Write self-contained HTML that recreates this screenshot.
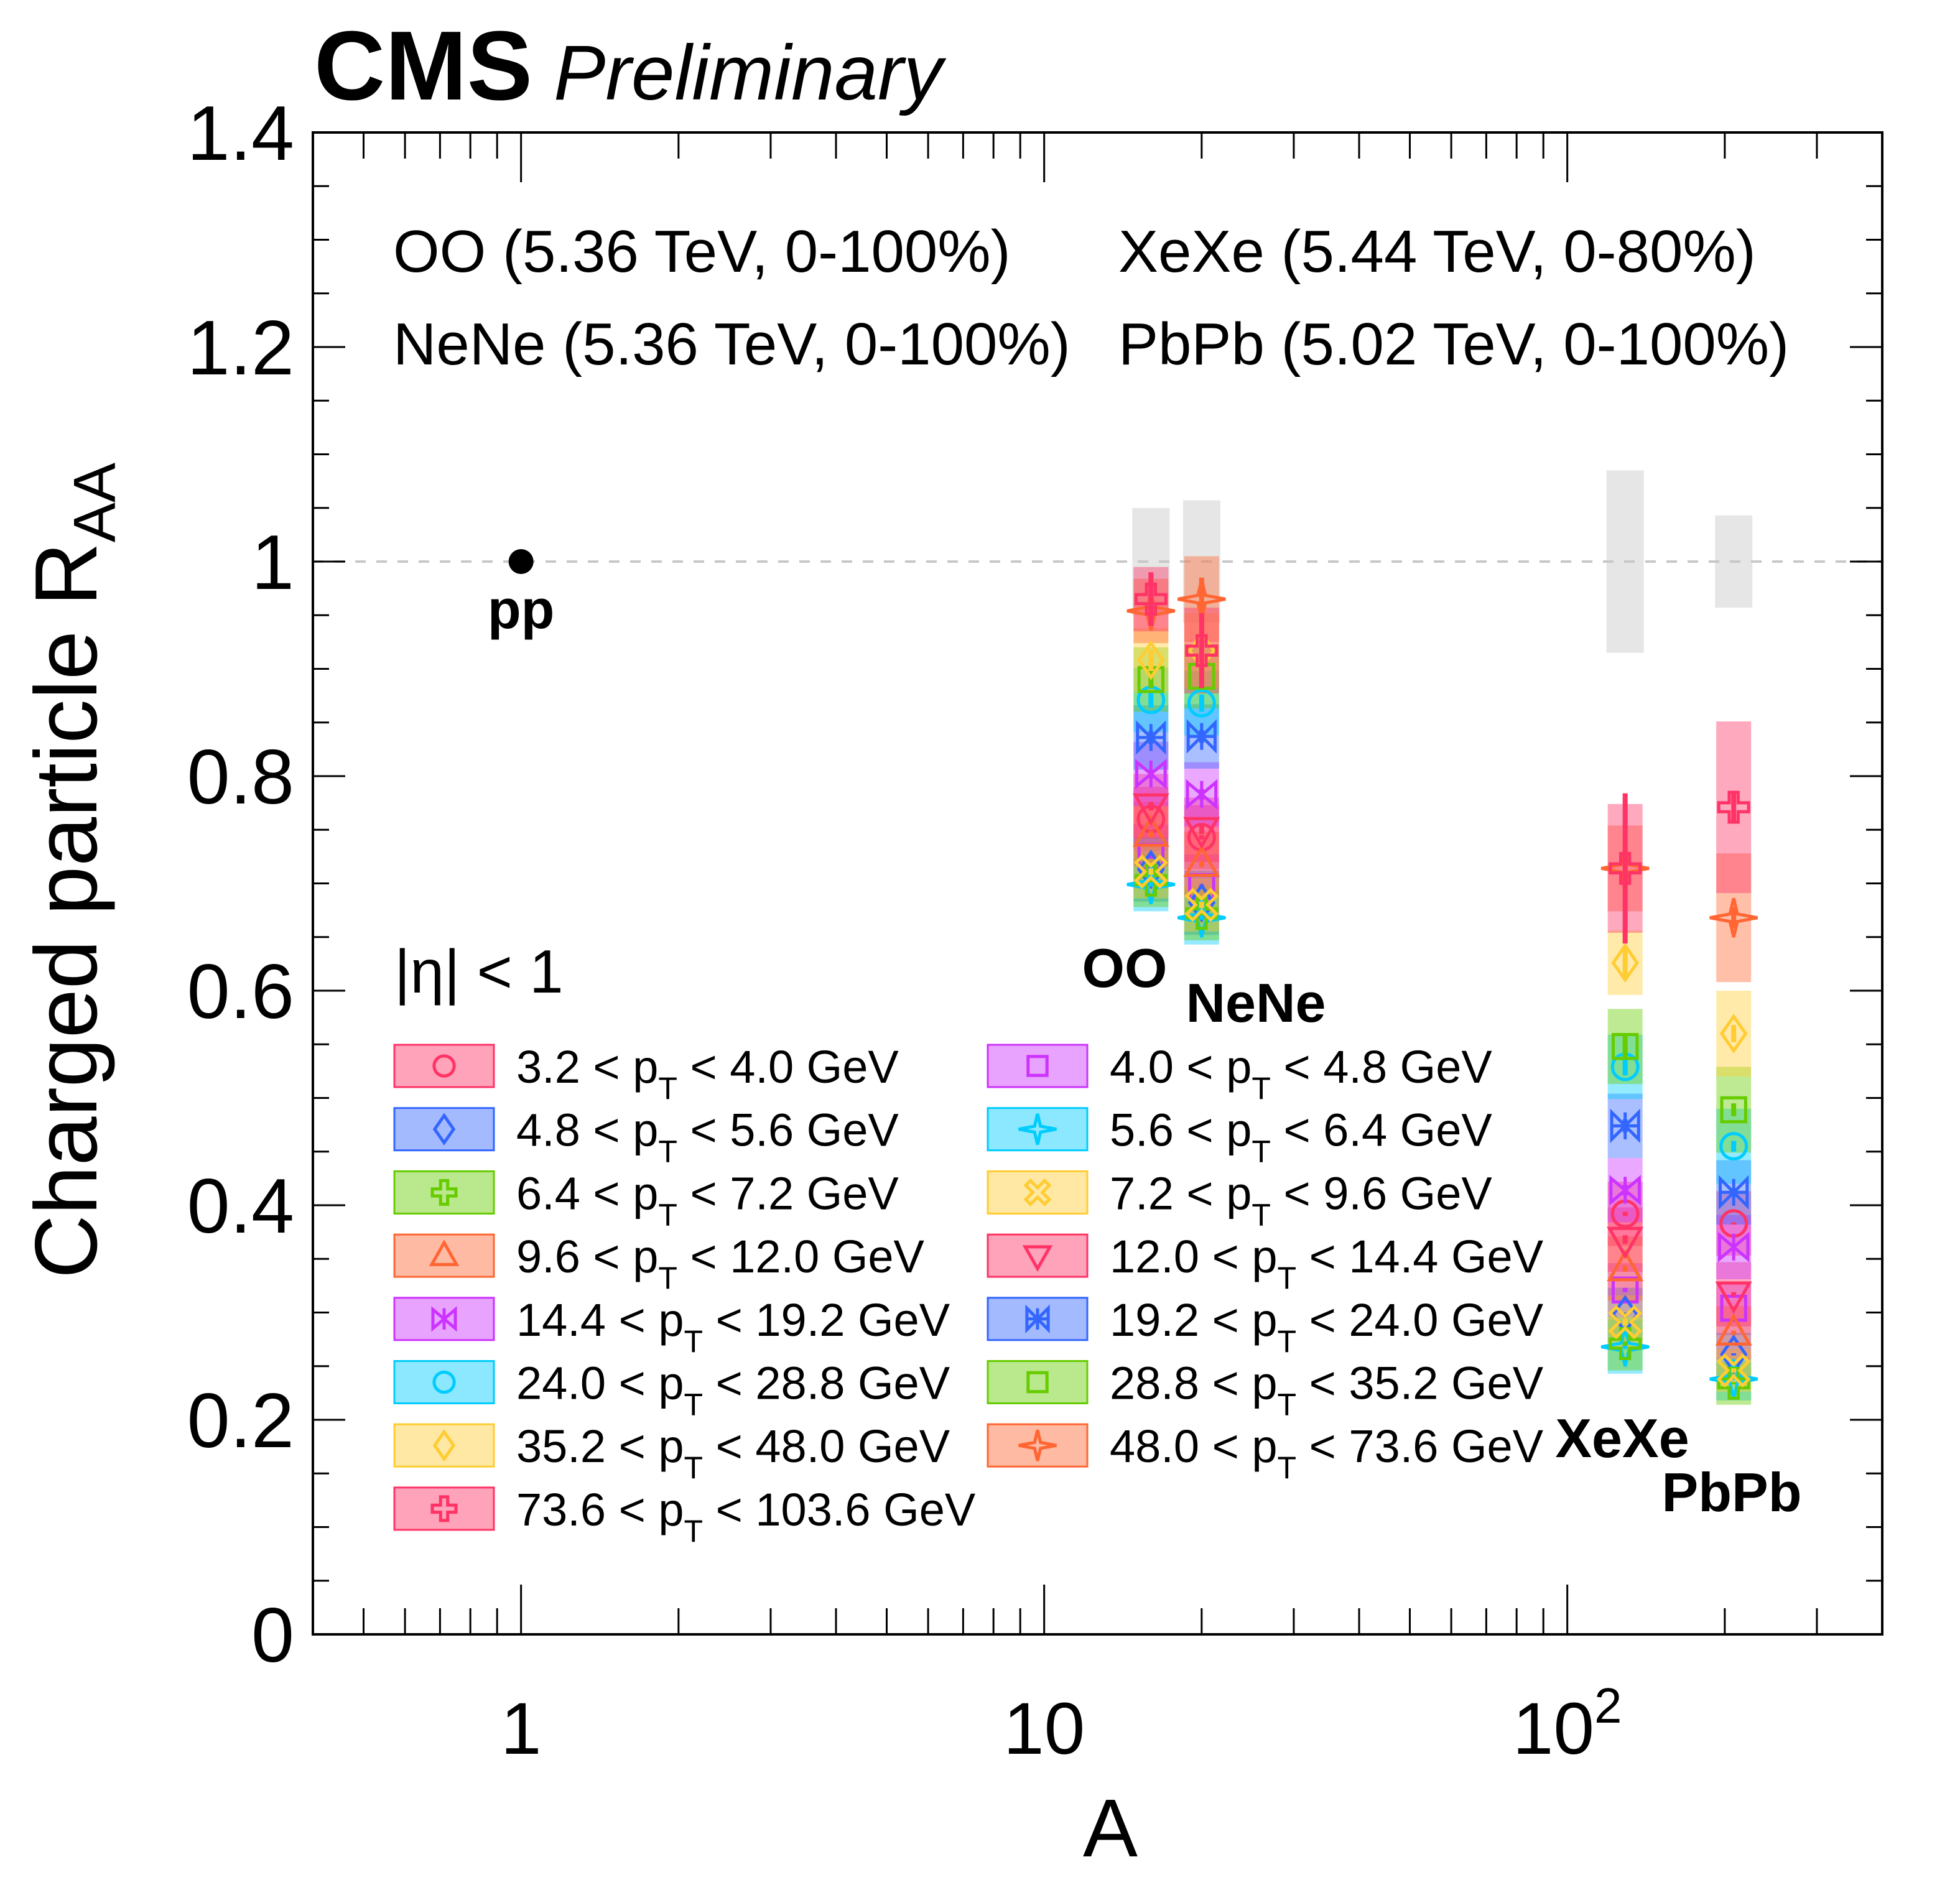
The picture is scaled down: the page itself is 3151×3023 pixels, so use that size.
<!DOCTYPE html>
<html><head><meta charset="utf-8">
<style>
html,body{margin:0;padding:0;background:#fff;}
svg{display:block;font-family:"Liberation Sans",sans-serif;}
</style></head>
<body>
<svg id="chart" xmlns="http://www.w3.org/2000/svg" width="3151" height="3023" viewBox="0 0 3151 3023">
<rect x="0" y="0" width="3151" height="3023" fill="#fff"/>
<g id="grayLayer"></g>
<g id="boxLayer"></g>
<g id="markLayer"></g>
<g id="axisLayer"></g>
<g id="legendLayer"></g>
<text x="505" y="160" font-size="158" font-weight="bold">CMS</text>
<text x="890" y="160" font-size="125" font-style="italic">Preliminary</text>
<text x="632" y="437" font-size="96">OO (5.36 TeV, 0-100%)</text>
<text x="632" y="586" font-size="96">NeNe (5.36 TeV, 0-100%)</text>
<text x="1798" y="437" font-size="96">XeXe (5.44 TeV, 0-80%)</text>
<text x="1798" y="586" font-size="96">PbPb (5.02 TeV, 0-100%)</text>
<text x="634" y="1596" font-size="98">|η| &lt; 1</text>
<text x="0" y="0" font-size="142" transform="translate(155,1400) rotate(-90)" text-anchor="middle">Charged particle R<tspan font-size="96" dy="30">AA</tspan></text>
<text x="1785" y="2985" font-size="132" text-anchor="middle">A</text>
</svg>
<script>
// ---- data ----
const systems = ["OO","NeNe","XeXe","PbPb"];
const massNumbers = [16, 20, 129, 208];
const normUnc = [0.05, 0.057, 0.085, 0.043];
const ptBins = ["3.2 < p_T < 4.0 GeV","4.0 < p_T < 4.8 GeV","4.8 < p_T < 5.6 GeV","5.6 < p_T < 6.4 GeV","6.4 < p_T < 7.2 GeV","7.2 < p_T < 9.6 GeV","9.6 < p_T < 12.0 GeV","12.0 < p_T < 14.4 GeV","14.4 < p_T < 19.2 GeV","19.2 < p_T < 24.0 GeV","24.0 < p_T < 28.8 GeV","28.8 < p_T < 35.2 GeV","35.2 < p_T < 48.0 GeV","48.0 < p_T < 73.6 GeV","73.6 < p_T < 103.6 GeV"];
const raaOO   = [0.760,0.725,0.713,0.699,0.703,0.711,0.746,0.772,0.802,0.836,0.871,0.890,0.908,0.954,0.965];
const raaNeNe = [0.743,0.697,0.682,0.668,0.672,0.680,0.718,0.750,0.783,0.837,0.868,0.893,0.917,0.965,0.917];
const raaXeXe = [0.392,0.321,0.298,0.268,0.271,0.291,0.341,0.368,0.414,0.474,0.529,0.548,0.626,0.714,0.714];
const raaPbPb = [0.383,0.304,0.261,0.238,0.234,0.246,0.281,0.317,0.361,0.412,0.455,0.489,0.560,0.668,0.771];
const sysOO   = [0.03,0.03,0.03,0.025,0.025,0.025,0.03,0.03,0.03,0.03,0.03,0.03,0.03,0.03,0.03];
const sysNeNe = [0.03,0.03,0.03,0.025,0.025,0.025,0.03,0.03,0.03,0.03,0.03,0.03,0.035,0.04,0.04];
const sysXeXe = [0.03,0.025,0.025,0.025,0.025,0.025,0.03,0.03,0.03,0.03,0.03,0.035,0.03,0.04,0.06];
const sysPbPb = [0.03,0.025,0.02,0.02,0.02,0.02,0.025,0.03,0.03,0.03,0.035,0.04,0.04,0.06,0.08];
const statOO   = [0.002,0.002,0.002,0.002,0.002,0.003,0.003,0.004,0.004,0.006,0.007,0.008,0.01,0.015,0.025];
const statNeNe = [0.002,0.002,0.002,0.002,0.002,0.003,0.003,0.004,0.005,0.006,0.008,0.01,0.012,0.02,0.035];
const statXeXe = [0.002,0.002,0.002,0.002,0.002,0.003,0.003,0.004,0.005,0.006,0.008,0.01,0.015,0.02,0.07];
const statPbPb = [0.001,0.001,0.001,0.001,0.001,0.002,0.002,0.002,0.003,0.004,0.005,0.006,0.008,0.01,0.015];
const ppValue = 1.0;
const yTicks = [0,0.2,0.4,0.6,0.8,1,1.2,1.4];
const yTickLabels = ["0","0.2","0.4","0.6","0.8","1","1.2","1.4"];
const xDecades = [1,10,100];

const raa = [raaOO, raaNeNe, raaXeXe, raaPbPb];
const sys = [sysOO, sysNeNe, sysXeXe, sysPbPb];
const stat = [statOO, statNeNe, statXeXe, statPbPb];

// ---- style ----
const colors = ["#ff3366","#cc33ff","#3366ff","#00ccff","#66cc00","#ffcc33","#ff6633","#ff3366","#cc33ff","#3366ff","#00ccff","#66cc00","#ffcc33","#ff6633","#ff3366"];
const shapes = ["circle","square","diamond","star","cross","xcross","tri","tridown","aster","asterbox","circle","square","diamond","star","cross"];
const NS = "http://www.w3.org/2000/svg";
const L=503, R=3026, T=213, B=2628;
const xmin=Math.log10(0.4), xmax=Math.log10(400);
function X(a){return L+(Math.log10(a)-xmin)/(xmax-xmin)*(R-L);}
function Y(v){return B-(v/1.4)*(B-T);}
function el(tag, attrs, parent){const e=document.createElementNS(NS,tag);for(const k in attrs)e.setAttribute(k,attrs[k]);parent.appendChild(e);return e;}

function marker(parent, cx, cy, shape, col, s){
  const g=el("g",{fill:"none",stroke:col,"stroke-width":5,"stroke-linejoin":"miter"},parent);
  
  
  const p=(pts)=>el("polygon",{points:pts.map(q=>(cx+q[0]*s)+","+(cy+q[1]*s)).join(" ")},g);
  if(shape==="circle"){el("circle",{cx:cx,cy:cy,r:0.85*s},g);}
  else if(shape==="square"){el("rect",{x:cx-0.8*s,y:cy-0.8*s,width:1.6*s,height:1.6*s},g);}
  else if(shape==="diamond"){p([[0,-1.15],[0.8,0],[0,1.15],[-0.8,0]]);}
  else if(shape==="star"){p([[0,-1.3],[0.25,-0.25],[1.6,0],[0.25,0.25],[0,1.3],[-0.25,0.25],[-1.6,0],[-0.25,-0.25]]);}
  else if(shape==="cross"){const a=0.3,b=1;p([[-a,-b],[a,-b],[a,-a],[b,-a],[b,a],[a,a],[a,b],[-a,b],[-a,a],[-b,a],[-b,-a],[-a,-a]]);}
  else if(shape==="xcross"){const q=[[0,-0.4],[0.6,-1],[1,-0.6],[0.4,0],[1,0.6],[0.6,1],[0,0.4],[-0.6,1],[-1,0.6],[-0.4,0],[-1,-0.6],[-0.6,-1]];p(q);}
  else if(shape==="tri"){p([[0,-1.1],[1.05,0.75],[-1.05,0.75]]);}
  else if(shape==="tridown"){p([[0,1.1],[1.05,-0.75],[-1.05,-0.75]]);}
  else if(shape==="aster"){p([[-0.95,-0.8],[0.95,0.8],[0.95,-0.8],[-0.95,0.8]]);el("line",{x1:cx,y1:cy-0.9*s,x2:cx,y2:cy+0.9*s},g);}
  else if(shape==="asterbox"){p([[-0.9,-0.9],[0.9,0.9],[0.9,-0.9],[-0.9,0.9]]);el("line",{x1:cx-0.9*s,y1:cy,x2:cx+0.9*s,y2:cy},g);el("line",{x1:cx,y1:cy-0.9*s,x2:cx,y2:cy+0.9*s},g);}
}

const grayLayer=document.getElementById("grayLayer");
const boxLayer=document.getElementById("boxLayer");
const markLayer=document.getElementById("markLayer");
const BW=56;
systems.forEach((sysName,si)=>{
  const cx=X(massNumbers[si]);
  const gr=el("rect",{x:cx-BW/2-2,y:Y(1+normUnc[si]),width:BW+4,height:Y(1-normUnc[si])-Y(1+normUnc[si]),fill:"#e6e6e6"},grayLayer);
  
  
  raa[si].forEach((v,bi)=>{
    const r=el("rect",{x:cx-BW/2,y:Y(v+sys[si][bi]),width:BW,height:Y(v-sys[si][bi])-Y(v+sys[si][bi]),fill:colors[bi],"fill-opacity":0.42},boxLayer);
    
    
  });
  raa[si].forEach((v,bi)=>{
    const ln=el("line",{x1:cx,y1:Y(v+stat[si][bi]),x2:cx,y2:Y(v-stat[si][bi]),stroke:colors[bi],"stroke-width":8},markLayer);
    
    
    marker(markLayer,cx,Y(v),shapes[bi],colors[bi],24);
  });
});
// pp point
const pp=el("circle",{cx:X(1),cy:Y(ppValue),r:20,fill:"#000"},markLayer);


const sysLabels=[["pp",X(1),1010],["OO",1808,1587],["NeNe",2019,1643],["XeXe",2608,2343],["PbPb",2784,2430]];
sysLabels.forEach(s=>{
  const t=el("text",{x:s[1],y:s[2],"font-size":88,"font-weight":"bold","text-anchor":"middle"},markLayer);
  t.textContent=s[0];
  
  
});

// axes
const ax=document.getElementById("axisLayer");
const dl=el("line",{x1:L,y1:Y(1),x2:R,y2:Y(1),stroke:"#c8c8c8","stroke-width":4,"stroke-dasharray":"17 17"},grayLayer);


const fr=el("rect",{x:L,y:T,width:R-L,height:B-T,fill:"none",stroke:"#000","stroke-width":4},ax);


for(let i=0;i<=28;i++){
  const v=i*0.05, y=Y(v), len=(i%4===0)?52:26;
  el("line",{x1:L,y1:y,x2:L+len,y2:y,stroke:"#000","stroke-width":3},ax);
  el("line",{x1:R,y1:y,x2:R-len,y2:y,stroke:"#000","stroke-width":3},ax);
}
yTicks.forEach((v,i)=>{
  const t=el("text",{x:473,y:Y(v)+44,"font-size":124,"text-anchor":"end"},ax);
  t.textContent=yTickLabels[i];
  
  
});
for(let d=0.1;d<=100;d*=10){
  for(let m=1;m<=9;m++){
    const a=d*m; if(a<0.4||a>400)continue;
    const x=X(a), major=(m===1);
    el("line",{x1:x,y1:B,x2:x,y2:B-(major?80:42),stroke:"#000","stroke-width":3},ax);
    el("line",{x1:x,y1:T,x2:x,y2:T+(major?80:42),stroke:"#000","stroke-width":3},ax);
  }
}
xDecades.forEach(a=>{
  const t=el("text",{x:X(a),y:2820,"font-size":118,"text-anchor":"middle"},ax);
  
  
  if(a===100){t.textContent="10";const s=el("tspan",{"font-size":80,dy:-50},t);s.textContent="2";}
  else t.textContent=String(a);
});

// legend
const lg=document.getElementById("legendLayer");
ptBins.forEach((lab,i)=>{
  const col=i%2, row=Math.floor(i/2);
  const bx=col?1588:634, by=1714+row*101.7;
  const r=el("rect",{x:bx,y:by-34,width:160,height:68,fill:colors[i],"fill-opacity":0.45,stroke:colors[i],"stroke-width":3},lg);
  
  
  marker(lg,bx+80,by,shapes[i],colors[i],19);
  const parts=lab.split("p_T");
  const t=el("text",{x:bx+196,y:by+27,"font-size":74},lg);
  
  
  const a=el("tspan",{},t);a.textContent=parts[0]+"p";
  const s=el("tspan",{"font-size":50,dy:26},t);s.textContent="T";
  const b=el("tspan",{dy:-26},t);b.textContent=parts[1];
});
</script>
</body></html>
